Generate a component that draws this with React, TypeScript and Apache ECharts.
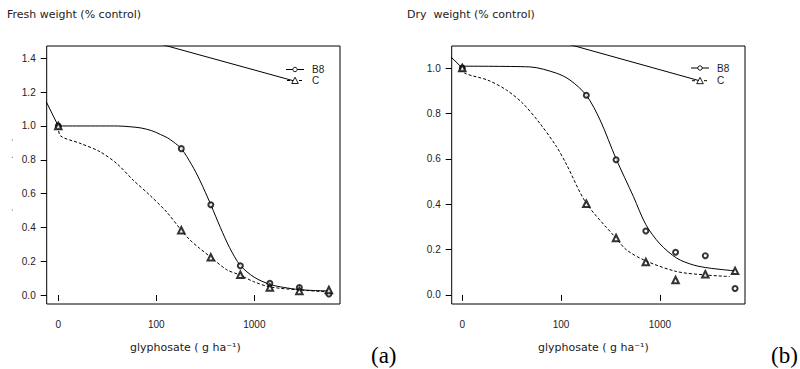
import React, { useEffect, useRef } from 'react';
import * as echarts from 'echarts';

// Observed doses (g ha-1) and responses (fraction of control)
const doses = [0, 180, 360, 720, 1440, 2880, 5760];
const freshB8 = [1.0, 0.866, 0.534, 0.173, 0.069, 0.045, 0.006];
const freshC = [1.0, 0.383, 0.223, 0.12, 0.045, 0.024, 0.03];
const dryB8 = [1.0, 0.88, 0.596, 0.282, 0.188, 0.173, 0.028];
const dryC = [1.0, 0.402, 0.251, 0.145, 0.066, 0.091, 0.106];

// Fitted curves
const fitFreshB8Dose = [0, 40, 55, 70, 90, 110, 130, 150, 180, 230, 280, 360, 450, 560, 720, 1000, 1440, 2000, 2880, 4000, 5760];
const fitFreshB8 = [1.0, 1.0, 0.995, 0.988, 0.972, 0.95, 0.93, 0.905, 0.866, 0.77, 0.675, 0.534, 0.4, 0.28, 0.175, 0.105, 0.063, 0.045, 0.032, 0.027, 0.024];
const fitFreshCDose = [0, 10.5, 16.6, 26.6, 40, 58, 86, 128, 180, 221, 277, 361, 522, 715, 977, 1445, 2925, 5760];
const fitFreshC = [1.0, 0.942, 0.898, 0.848, 0.775, 0.68, 0.59, 0.49, 0.383, 0.325, 0.276, 0.223, 0.15, 0.118, 0.08, 0.048, 0.03, 0.018];
const fitDryB8Dose = [0, 48, 90, 123, 180, 248, 360, 540, 720, 1000, 1480, 2180, 3200, 5760];
const fitDryB8 = [1.008, 1.005, 0.977, 0.947, 0.88, 0.771, 0.6, 0.433, 0.31, 0.225, 0.162, 0.132, 0.118, 0.106];
const fitDryCDose = [0, 10.6, 18, 28, 41, 61, 90, 114, 180, 360, 460, 720, 1480, 2880, 5100];
const fitDryC = [1.0, 0.977, 0.947, 0.903, 0.844, 0.756, 0.653, 0.573, 0.404, 0.25, 0.198, 0.15, 0.103, 0.088, 0.081];

// Stray straight strokes seen in the original (axis units: log10 dose, response)
const strayFreshTopX = [0.885, 3.395];
const strayFreshTopY = [1.669, 1.268];
const strayFreshLeftX = [0.813, 1.0];
const strayFreshLeftY = [1.218, 1.0];
const strayDryTopX = [0.977, 3.399];
const strayDryTopY = [1.238, 0.944];
const strayDryLeftX = [0.774, 1.0];
const strayDryLeftY = [1.096, 1.0];

// Axis ticks
const xTickValues = [1, 2, 3];
const xTickLabels = ['0', '100', '1000'];
const freshYTicks = [0, 0.2, 0.4, 0.6, 0.8, 1.0, 1.2, 1.4];
const dryYTicks = [0, 0.2, 0.4, 0.6, 0.8, 1.0];
const legendNames = ['B8', 'C'];

const lx = (d: number) => (d <= 0 ? 1 : Math.log10(d));
const pairs = (xs: number[], ys: number[]) => xs.map((d, i) => [lx(d), ys[i]]);
const rawPairs = (xs: number[], ys: number[]) => xs.map((x, i) => [x, ys[i]]);

const INK = '#000';
const TXT = '#222';
const SANS = '"Liberation Sans", Arial, sans-serif';
const VERD = '"DejaVu Sans", Verdana, sans-serif';

function xAxisCfg(gridIndex: number, min: number, max: number, padRight: number) {
  return {
    gridIndex,
    type: 'value',
    min,
    max,
    axisLine: { show: false },
    splitLine: { show: false },
    axisTick: { show: true, customValues: xTickValues, length: 6, lineStyle: { color: INK, width: 1 } },
    axisLabel: {
      customValues: xTickValues,
      formatter: (v: number) => {
        const i = xTickValues.findIndex((t) => Math.abs(t - v) < 1e-6);
        return i >= 0 ? xTickLabels[i] : '';
      },
      margin: 15,
      fontSize: 10,
      fontFamily: SANS,
      color: TXT,
    },
    name: 'glyphosate ( g ha⁻¹)',
    nameLocation: 'middle',
    nameGap: 38,
    nameTextStyle: { fontSize: 11, fontFamily: VERD, color: TXT, padding: [0, padRight, 0, 0] },
  };
}

function yAxisCfg(gridIndex: number, min: number, max: number, ticks: number[]) {
  return {
    gridIndex,
    type: 'value',
    min,
    max,
    axisLine: { show: false },
    splitLine: { show: false },
    axisTick: { show: true, customValues: ticks, length: 6, lineStyle: { color: INK, width: 1 } },
    axisLabel: {
      customValues: ticks,
      formatter: (v: number) => v.toFixed(1),
      margin: 11,
      fontSize: 10,
      fontFamily: SANS,
      color: TXT,
    },
  };
}

function panelSeries(idx: number, b8: number[], c: number[], fb8d: number[], fb8: number[], fcd: number[], fc: number[],
  stX1: number[], stY1: number[], stX2: number[], stY2: number[]) {
  const common = { xAxisIndex: idx, yAxisIndex: idx, animation: false };
  return [
    {
      ...common,
      name: 'B8',
      type: 'line',
      data: pairs(fb8d, fb8),
      smooth: 0.3,
      symbol: 'none',
      lineStyle: { color: INK, width: 1 },
      itemStyle: { color: INK },
      z: 3,
    },
    {
      ...common,
      name: 'C',
      type: 'line',
      data: pairs(fcd, fc),
      smooth: 0.3,
      symbol: 'none',
      lineStyle: { color: INK, width: 1, type: [3, 2] },
      itemStyle: { color: INK },
      z: 3,
    },
    {
      ...common,
      name: 'B8 observed',
      type: 'scatter',
      data: pairs(doses, b8),
      symbol: 'emptyCircle',
      symbolSize: 5,
      itemStyle: { color: INK, borderWidth: 0.8 },
      z: 4,
    },
    {
      ...common,
      name: 'C observed',
      type: 'scatter',
      data: pairs(doses, c),
      symbol: 'emptyTriangle',
      symbolSize: 6.5,
      itemStyle: { color: INK, borderWidth: 0.7 },
      z: 4,
    },
    {
      ...common,
      name: 'stray1',
      type: 'line',
      data: rawPairs(stX1, stY1),
      symbol: 'none',
      clip: true,
      lineStyle: { color: INK, width: 1 },
      z: 2,
    },
    {
      ...common,
      name: 'stray2',
      type: 'line',
      data: rawPairs(stX2, stY2),
      symbol: 'none',
      clip: true,
      lineStyle: { color: INK, width: 1 },
      z: 2,
    },
  ];
}

function legendIcons(x0: number, y1: number, y2: number) {
  const cx = x0 + 9;
  return [
    { type: 'line', shape: { x1: x0, y1, x2: x0 + 18, y2: y1 }, style: { stroke: INK, lineWidth: 1 }, z: 10 },
    { type: 'circle', shape: { cx, cy: y1, r: 2.2 }, style: { fill: '#fff', stroke: INK, lineWidth: 0.9 }, z: 11 },
    { type: 'line', shape: { x1: x0 + 1, y1: y2, x2: x0 + 18, y2 }, style: { stroke: INK, lineWidth: 1, lineDash: [3, 3] }, z: 10 },
    {
      type: 'polygon',
      shape: { points: [[cx, y2 - 3.3], [cx + 3.3, y2 + 3], [cx - 3.3, y2 + 3]] },
      style: { fill: '#fff', stroke: INK, lineWidth: 0.9 },
      z: 11,
    },
  ];
}

export default function App() {
  const ref = useRef<HTMLDivElement>(null);
  useEffect(() => {
    if (!ref.current) return;
    const chart = echarts.init(ref.current, undefined, { renderer: 'svg' });
    const legendCommon = {
      orient: 'vertical',
      data: legendNames.map((name) => ({ name, icon: 'none' })),
      itemWidth: 18,
      itemHeight: 7,
      padding: 0,
      selectedMode: false,
      textStyle: { fontSize: 10, fontFamily: SANS, color: TXT, lineHeight: 11, padding: [0, 0, 0, 3] },
    };
    chart.setOption({
      animation: false,
      backgroundColor: '#fff',
      title: [
        { text: 'Fresh weight (% control)', left: 7, top: 9, padding: 0, textStyle: { fontFamily: VERD, fontSize: 11, fontWeight: 'normal', color: TXT } },
        { text: 'Dry  weight (% control)', left: 407, top: 9, padding: 0, textStyle: { fontFamily: VERD, fontSize: 11, fontWeight: 'normal', color: TXT } },
      ],
      legend: [
        { ...legendCommon, left: 286, top: 64, itemGap: 0 },
        { ...legendCommon, left: 691, top: 62.5, itemGap: 1.7 },
      ],
      grid: [
        { left: 46.7, top: 46, width: 293.3, height: 258, show: true, borderColor: INK, borderWidth: 1, backgroundColor: 'transparent' },
        { left: 451.7, top: 46, width: 293.3, height: 258, show: true, borderColor: INK, borderWidth: 1, backgroundColor: 'transparent' },
      ],
      xAxis: [xAxisCfg(0, 0.882, 3.874, 16), xAxisCfg(1, 0.893, 3.861, 10)],
      yAxis: [yAxisCfg(0, -0.053, 1.473, freshYTicks), yAxisCfg(1, -0.04, 1.097, dryYTicks)],
      series: [
        ...panelSeries(0, freshB8, freshC, fitFreshB8Dose, fitFreshB8, fitFreshCDose, fitFreshC,
          strayFreshTopX, strayFreshTopY, strayFreshLeftX, strayFreshLeftY),
        ...panelSeries(1, dryB8, dryC, fitDryB8Dose, fitDryB8, fitDryCDose, fitDryC,
          strayDryTopX, strayDryTopY, strayDryLeftX, strayDryLeftY),
      ],
      graphic: [
        ...legendIcons(286, 69.5, 80.5),
        ...legendIcons(691, 68, 80.7),
        { type: 'text', x: 371, y: 355, style: { text: '(a)', font: '23px "Liberation Serif", serif', fill: '#000', verticalAlign: 'middle' } },
        { type: 'text', x: 771, y: 355, style: { text: '(b)', font: '23px "Liberation Serif", serif', fill: '#000', verticalAlign: 'middle' } },
        { type: 'circle', shape: { cx: 12.3, cy: 140, r: 0.6 }, style: { fill: '#888' } },
        { type: 'circle', shape: { cx: 12.3, cy: 157.3, r: 0.6 }, style: { fill: '#888' } },
        { type: 'circle', shape: { cx: 12.3, cy: 210, r: 0.6 }, style: { fill: '#888' } },
      ],
    });
    return () => chart.dispose();
  }, []);
  return <div ref={ref} style={{ position: 'absolute', left: 0, top: 0, width: 800, height: 369 }} />;
}
